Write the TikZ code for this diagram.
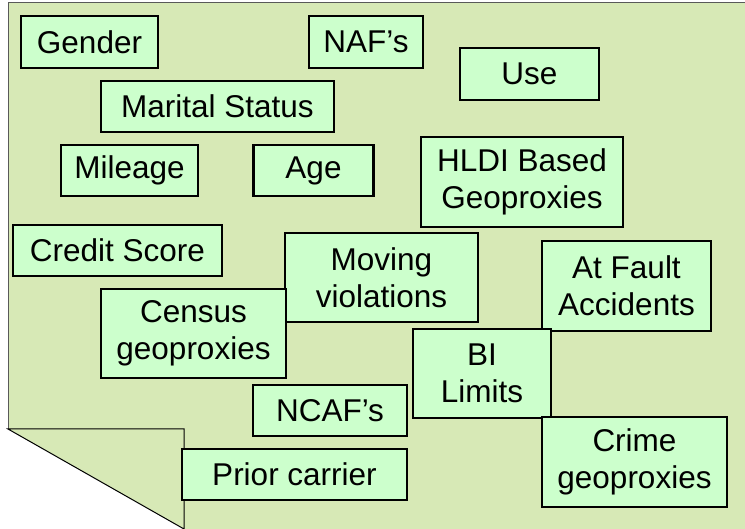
\documentclass[tikz,border=0pt]{standalone}
\usepackage{fontspec}
\setmainfont{Liberation Sans}
\usepackage{xcolor}
\usepackage{tikz}
\usetikzlibrary{positioning}

\definecolor{pagegreen}{HTML}{D7E9B6}
\definecolor{boxgreen}{HTML}{CCFFCC}

\begin{document}
\begin{tikzpicture}[x=1pt, y=-1pt,
  factor/.style={draw=black, line width=2.4pt, fill=boxgreen, inner sep=0pt,
    align=center, font=\fontsize{31.5}{37}\selectfont}]

\useasboundingbox (0,0) rectangle (745,529);

% -- Folded page ------------------------------------------------------------
\fill[pagegreen] (8,3) -- (745,3) -- (745,529) -- (184,529) -- (8,429) -- cycle;
\draw[gray!70!black, line width=1pt] (745,3) -- (8,3) -- (8,429);
\draw[black, line width=1pt] (8,429) -- (184,429) -- (184,529) -- cycle;

% -- Rating factors ---------------------------------------------------------
\node[factor, minimum width=137pt, minimum height=52pt] (gender)  at (89.5,42)   {Gender};
\node[factor, minimum width=114pt, minimum height=52pt] (nafs)    at (366,42)    {NAF’s};
\node[factor, minimum width=139pt, minimum height=52pt] (use)     at (529.5,74)  {Use};
\node[factor, minimum width=233pt, minimum height=51pt] (marital) at (217.5,106.5) {Marital Status};
\node[factor, minimum width=137pt, minimum height=51pt] (mileage) at (129.5,170.5) {Mileage};
\node[factor, minimum width=120pt, minimum height=51pt] (age)     at (313.5,170.5) {Age};
\node[factor, minimum width=202pt, minimum height=90pt] (hldi)    at (522,182)   {HLDI Based\\Geoproxies};
\node[factor, minimum width=209pt, minimum height=51pt] (credit)  at (117.5,250.5) {Credit Score};
\node[factor, minimum width=193pt, minimum height=89pt] (moving)  at (381.5,277.5) {Moving\\violations};
\node[factor, minimum width=169pt, minimum height=90pt] (atfault) at (626.5,286) {At Fault\\Accidents};
\node[factor, minimum width=185pt, minimum height=89pt] (census)  at (193.5,333.5) {Census\\geoproxies};
\node[factor, minimum width=138pt, minimum height=89pt] (bi)      at (482,373.5) {BI\\Limits};
\node[factor, minimum width=154pt, minimum height=51pt] (ncaf)    at (330,410.5) {NCAF’s};
\node[factor, minimum width=185pt, minimum height=90pt] (crime)   at (634.5,462) {Crime\\geoproxies};
\node[factor, minimum width=225pt, minimum height=51pt] (prior)   at (294.5,474.5) {Prior carrier};

\end{tikzpicture}
\end{document}
